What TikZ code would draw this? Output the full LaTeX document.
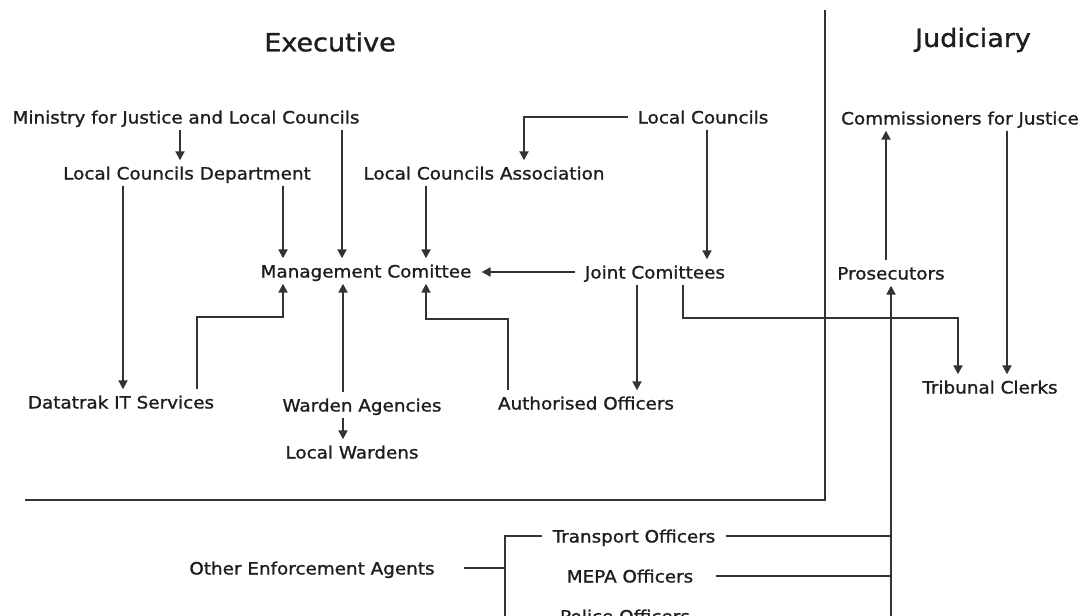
\documentclass[tikz,border=0pt]{standalone}
\usepackage{fontspec}
\setmainfont{DejaVu Sans}[FakeStretch=1.08,FakeBold=1.2]
\usetikzlibrary{arrows.meta}
\definecolor{ln}{HTML}{333333}
\definecolor{tx}{HTML}{1E1E1E}
\tikzset{
 lbl/.style={font=\fontsize{17}{20}\selectfont, text=tx, inner xsep=10pt, inner ysep=6pt, text height=13pt, text depth=0pt},
 ttl/.style={font=\fontsize{25}{30}\selectfont, text=tx},
 conn/.style={draw=ln, line width=2pt},
 arr/.style={conn, -{Triangle[width=9pt,length=9pt]}},
 divider/.style={draw=ln, line width=2.5pt}
}
\begin{document}
\begin{tikzpicture}[x=1pt,y=-1pt]
\clip (0,0) rectangle (1085,616);
\fill[white] (0,0) rectangle (1085,616);
% titles
\node[ttl] (exec) at (330,42) {Executive};
\node[ttl] (jud) at (973,40) {Judiciary};
% dividers
\coordinate (dtop) at (825,10);
\coordinate (dcorner) at (825,500);
\coordinate (dleft) at (25,500);
\draw[divider] (dtop) -- (dcorner) -- (dleft);
% nodes
\node[lbl] (min) at (186,117) {Ministry for Justice and Local Councils};
\node[lbl] (dept) at (187,173) {Local Councils Department};
\node[lbl] (lca) at (484,173) {Local Councils Association};
\node[lbl] (lc) at (703,117) {Local Councils};
\node[lbl] (mgmt) at (366,271) {Management Comittee};
\node[lbl] (joint) at (655,272) {Joint Comittees};
\node[lbl] (comm) at (960,118) {Commissioners for Justice};
\node[lbl] (pros) at (891,273) {Prosecutors};
\node[lbl] (trib) at (990,387) {Tribunal Clerks};
\node[lbl] (data) at (121,402) {Datatrak IT Services};
\node[lbl] (ward) at (362,405) {Warden Agencies};
\node[lbl] (lw) at (352,452) {Local Wardens};
\node[lbl] (auth) at (586,403) {Authorised Officers};
\node[lbl] (other) at (312,568) {Other Enforcement Agents};
\node[lbl] (trans) at (634,536) {Transport Officers};
\node[lbl] (mepa) at (630,576) {MEPA Officers};
\node[lbl] (police) at (625,616) {Police Officers};
\coordinate (bus) at (891,640);
\coordinate (brk) at (505,640);
% connectors
\draw[arr] ([xshift=-6]min.south) -- ([xshift=-7]dept.north);
\draw[arr] ([xshift=156]min.south) -- ([xshift=-24]mgmt.north);
\draw[arr] ([xshift=96]dept.south) -- ([xshift=-83]mgmt.north);
\draw[arr] ([xshift=-64]dept.south) -- ([xshift=2]data.north);
\draw[arr] (lc.west) -| ([xshift=40]lca.north);
\draw[arr] ([xshift=4]lc.south) -- ([xshift=52]joint.north);
\draw[arr] ([xshift=-58]lca.south) -- ([xshift=60]mgmt.north);
\draw[arr] (joint.west) -- (joint.west -| mgmt.east);
\draw[arr] ([xshift=76]data.north) -- ++(0,-72) -| ([xshift=-83]mgmt.south);
\draw[arr] ([xshift=-19]ward.north) -- ([xshift=-23]mgmt.south);
\draw[arr] ([xshift=-78]auth.north) -- ++(0,-71) -| ([xshift=60]mgmt.south);
\draw[arr] ([xshift=-18]joint.south) -- ([xshift=51]auth.north);
\draw[arr] ([xshift=28]joint.south) -- ++(0,33) -| ([xshift=-32]trib.north);
\draw[arr] ([xshift=47]comm.south) -- ([xshift=17]trib.north);
\draw[arr] ([xshift=-5]pros.north) -- ([xshift=-74]comm.south);
\draw[arr] ([xshift=-19]ward.south) -- ([xshift=-9]lw.north);
\draw[arr] (bus) -- (pros.south);
\draw[conn] (trans.east) -- (trans.east -| bus);
\draw[conn] ([xshift=13]mepa.east) -- (mepa.east -| bus);
\draw[conn] ([xshift=19]other.east) -- (other.east -| brk);
\draw[conn] (trans.west) -| (brk);
\end{tikzpicture}
\end{document}
